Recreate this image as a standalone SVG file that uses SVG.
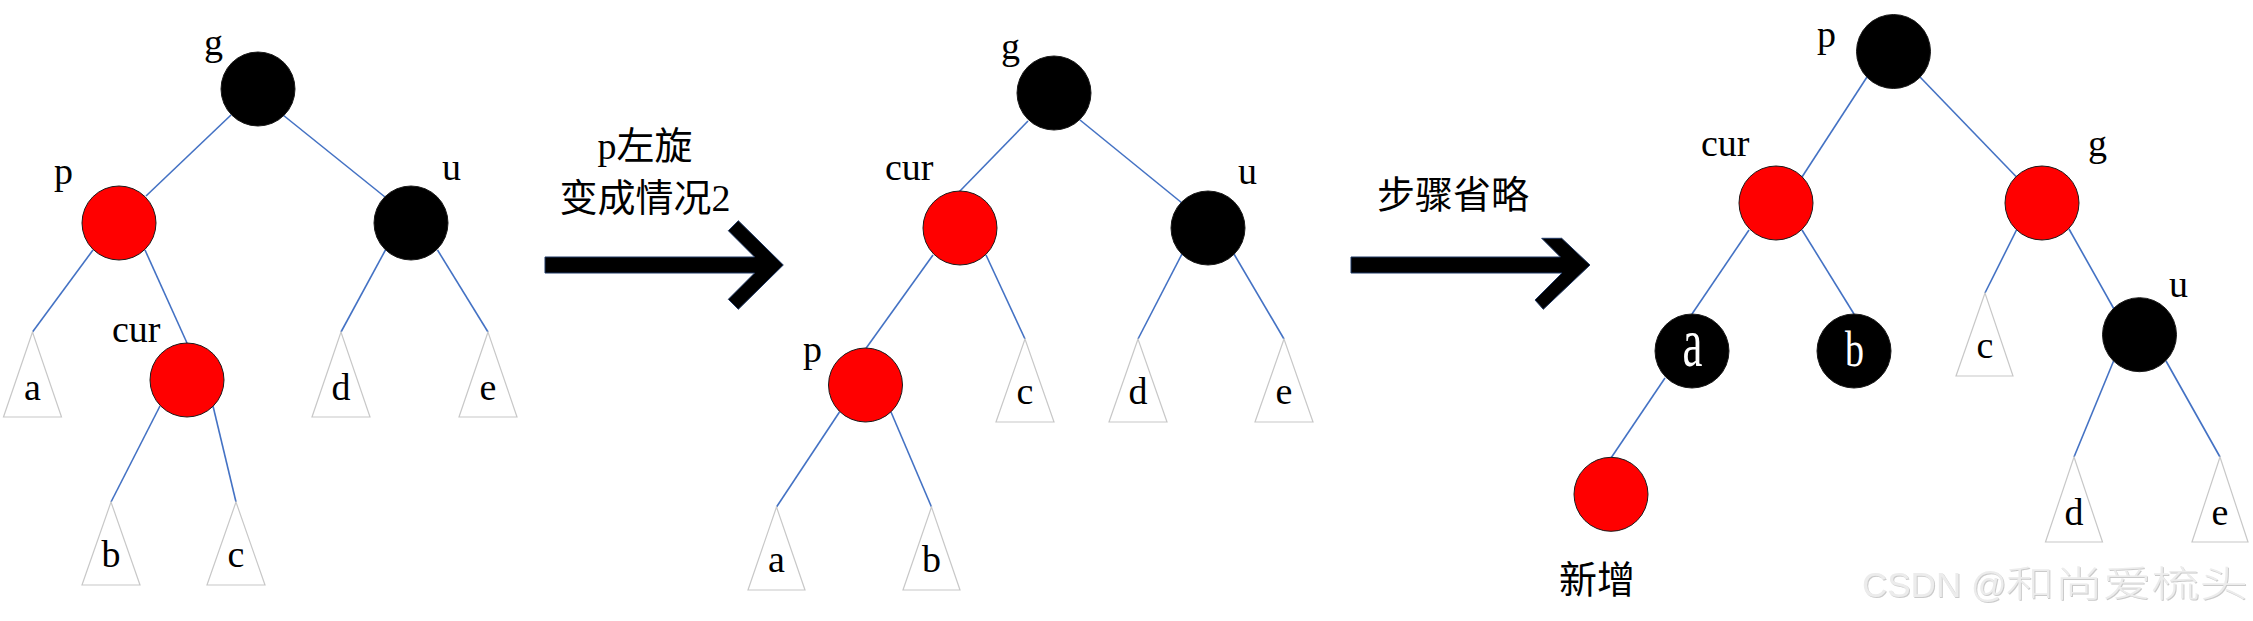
<svg xmlns="http://www.w3.org/2000/svg" width="2253" height="621" viewBox="0 0 2253 621">
<style>
.red{fill:#ff0000;stroke:#1a1a1a;stroke-width:1}
.blk{fill:#000;stroke:#1a1a1a;stroke-width:1}
.tri{fill:#fff;stroke:#c8c8c8;stroke-width:1.2}
.edge line{stroke:#4472c4;stroke-width:1.6}
.lbl{font-family:'Liberation Serif','Noto Sans CJK SC',serif;font-size:38px;fill:#000}
.tl{font-family:'Liberation Serif',serif;font-size:38px;fill:#000;text-anchor:middle}
.cjk{font-family:'Liberation Serif','Noto Sans CJK SC',sans-serif;font-size:38px;fill:#000;text-anchor:middle}
.arrow{fill:#000;stroke:#1f3864;stroke-width:1}
.wm{fill:#ececec}
.inw{font-family:'Liberation Serif',serif;fill:#fff;text-anchor:middle}
</style>
<defs>
<filter id="emb" x="-5%" y="-20%" width="110%" height="140%">
<feDropShadow dx="1" dy="1" stdDeviation="0.5" flood-color="#bdbdbd" flood-opacity="0.8"/>
</filter>
</defs>
<rect width="2253" height="621" fill="#fff"/>

<!-- connectors -->
<g id="connectors" class="edge">
<line x1="231" y1="115" x2="146" y2="196"/>
<line x1="283" y1="115" x2="385" y2="197"/>
<line x1="93" y1="250" x2="32.5" y2="332"/>
<line x1="145" y1="250" x2="187" y2="343"/>
<line x1="386" y1="249" x2="341" y2="332"/>
<line x1="437.5" y1="250" x2="488" y2="332"/>
<line x1="160" y1="406" x2="111" y2="502"/>
<line x1="213" y1="406" x2="236" y2="502"/>

<line x1="1028" y1="121" x2="959" y2="192"/>
<line x1="1080" y1="120" x2="1182" y2="203"/>
<line x1="933" y1="255" x2="865.5" y2="349"/>
<line x1="986" y1="255" x2="1025" y2="339"/>
<line x1="1182" y1="254" x2="1138" y2="339"/>
<line x1="1234" y1="254" x2="1284" y2="339"/>
<line x1="839.5" y1="412" x2="776.5" y2="507"/>
<line x1="891" y1="412" x2="931.5" y2="507"/>

<line x1="1867" y1="77" x2="1802" y2="177"/>
<line x1="1920" y1="77" x2="2016.5" y2="177"/>
<line x1="1749" y1="230" x2="1692" y2="314"/>
<line x1="1802" y1="230" x2="1854" y2="314"/>
<line x1="1665" y1="378" x2="1611" y2="458"/>
<line x1="2016.5" y1="230" x2="1985" y2="293"/>
<line x1="2069" y1="229" x2="2114" y2="309"/>
<line x1="2114" y1="360" x2="2074" y2="457"/>
<line x1="2166" y1="361" x2="2220" y2="457"/>
</g>

<!-- arrows -->
<g id="arrow1">
<polygon class="arrow" points="545,257 754.6,257 728.3,230.7 738.3,220.7 783.3,265 738.3,309.3 728.3,299.3 754.6,273 545,273"/>
<text class="cjk" x="645" y="159">p左旋</text>
<text class="cjk" x="645" y="211">变成情况2</text>
</g>
<g id="arrow2">
<polygon class="arrow" points="1351,257 1560.4,257 1541.7,238.3 1561.7,238.3 1590,265 1543.3,309.3 1535,300 1562,273 1351,273"/>
<text class="cjk" x="1453" y="208">步骤省略</text>
</g>

<!-- tree 1 -->
<g id="t1-g"><circle class="blk" cx="258" cy="89" r="37"/><text class="lbl" x="204" y="55">g</text></g>
<g id="t1-p"><circle class="red" cx="119" cy="223" r="37"/><text class="lbl" x="54" y="184">p</text></g>
<g id="t1-u"><circle class="blk" cx="411" cy="223" r="37"/><text class="lbl" x="442" y="180">u</text></g>
<g id="t1-cur"><circle class="red" cx="187" cy="380" r="37"/><text class="lbl" x="112" y="342">cur</text></g>
<g id="t1-a"><polygon class="tri" points="32.5,332 3.5,417 61.5,417"/><text class="tl" x="32.5" y="400">a</text></g>
<g id="t1-d"><polygon class="tri" points="341,332 312,417 370,417"/><text class="tl" x="341" y="400">d</text></g>
<g id="t1-e"><polygon class="tri" points="488,332 459,417 517,417"/><text class="tl" x="488" y="400">e</text></g>
<g id="t1-b"><polygon class="tri" points="111,502 82,585 140,585"/><text class="tl" x="111" y="567">b</text></g>
<g id="t1-c"><polygon class="tri" points="236,502 207,585 265,585"/><text class="tl" x="236" y="567">c</text></g>

<!-- tree 2 -->
<g id="t2-g"><circle class="blk" cx="1054" cy="93" r="37"/><text class="lbl" x="1001" y="59">g</text></g>
<g id="t2-cur"><circle class="red" cx="960" cy="228" r="37"/><text class="lbl" x="885" y="180">cur</text></g>
<g id="t2-u"><circle class="blk" cx="1208" cy="228" r="37"/><text class="lbl" x="1238" y="184">u</text></g>
<g id="t2-p"><circle class="red" cx="865.5" cy="385" r="37"/><text class="lbl" x="803" y="362">p</text></g>
<g id="t2-c"><polygon class="tri" points="1025,339 996,422 1054,422"/><text class="tl" x="1025" y="404">c</text></g>
<g id="t2-d"><polygon class="tri" points="1138,339 1109,422 1167,422"/><text class="tl" x="1138" y="404">d</text></g>
<g id="t2-e"><polygon class="tri" points="1284,339 1255,422 1313,422"/><text class="tl" x="1284" y="404">e</text></g>
<g id="t2-a"><polygon class="tri" points="776.5,507 748,590 805,590"/><text class="tl" x="776.5" y="572">a</text></g>
<g id="t2-b"><polygon class="tri" points="931.5,507 903,590 960,590"/><text class="tl" x="931.5" y="572">b</text></g>

<!-- tree 3 -->
<g id="t3-p"><circle class="blk" cx="1893.5" cy="51.5" r="37"/><text class="lbl" x="1817" y="47">p</text></g>
<g id="t3-cur"><circle class="red" cx="1776" cy="203" r="37"/><text class="lbl" x="1701" y="156">cur</text></g>
<g id="t3-g"><circle class="red" cx="2042" cy="203" r="37"/><text class="lbl" x="2088" y="156">g</text></g>
<g id="t3-a"><circle class="blk" cx="1692" cy="351" r="37"/><text class="inw" transform="translate(1692.5,366) scale(1,1.55)" font-size="45">a</text></g>
<g id="t3-b"><circle class="blk" cx="1854" cy="351" r="37"/><text class="inw" transform="translate(1854.5,366) scale(1,1.35)" font-size="38">b</text></g>
<g id="t3-u"><circle class="blk" cx="2139.5" cy="334.7" r="37"/><text class="lbl" x="2169" y="297">u</text></g>
<g id="t3-new"><circle class="red" cx="1611" cy="494.3" r="37"/><text class="cjk" x="1597" y="593">新增</text></g>
<g id="t3-c"><polygon class="tri" points="1985,293 1956,376 2013,376"/><text class="tl" x="1985" y="358">c</text></g>
<g id="t3-d"><polygon class="tri" points="2074,457 2045.5,542 2102.5,542"/><text class="tl" x="2074" y="525">d</text></g>
<g id="t3-e"><polygon class="tri" points="2220,457 2192,542 2248,542"/><text class="tl" x="2220" y="525">e</text></g>

<!-- watermark -->
<text class="wm" filter="url(#emb)" x="1862" y="597"><tspan style="font-family:'Liberation Sans',sans-serif;font-size:35px">CSDN @</tspan><tspan x="2006" textLength="242" lengthAdjust="spacingAndGlyphs" style="font-family:'Noto Sans CJK SC',sans-serif;font-size:36px;font-weight:300">和尚爱梳头</tspan></text>
</svg>
